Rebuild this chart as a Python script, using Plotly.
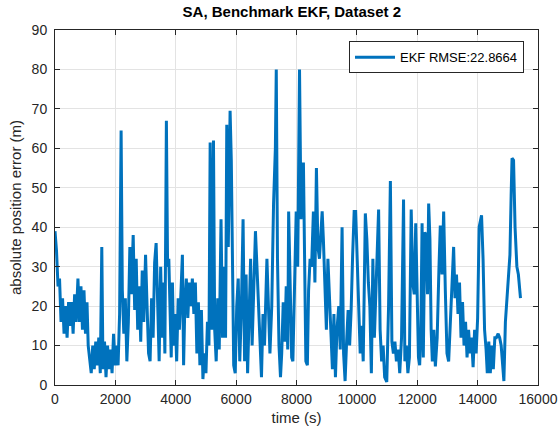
import plotly.graph_objects as go

# absolute position error of the benchmark EKF
time_s = [
    0, 50, 100, 150, 200, 250, 300, 350, 400, 450, 500, 550, 600, 650, 700, 760, 810, 860, 910, 960,
    1010, 1060, 1100, 1150, 1200, 1250, 1300, 1350, 1400, 1450, 1500, 1550, 1590, 1640, 1690, 1740,
    1790, 1840, 1890, 1940, 1990, 2040, 2090, 2140, 2190, 2230, 2280, 2330, 2380, 2430, 2480, 2530,
    2590, 2640, 2690, 2740, 2790, 2840, 2890, 2940, 3000, 3050, 3100, 3150, 3200, 3250, 3300, 3350,
    3400, 3450, 3500, 3550, 3600, 3640, 3690, 3730, 3770, 3810, 3850, 3890, 3930, 3980, 4030, 4080,
    4120, 4180, 4220, 4260, 4300, 4350, 4400, 4450, 4500, 4550, 4600, 4650, 4700, 4750, 4800, 4850,
    4900, 4950, 5000, 5050, 5100, 5140, 5190, 5250, 5290, 5340, 5390, 5440, 5500, 5550, 5600, 5650,
    5690, 5740, 5800, 5840, 5880, 5920, 5970, 6020, 6070, 6120, 6170, 6230, 6280, 6330, 6380, 6430,
    6480, 6530, 6580, 6640, 6690, 6740, 6790, 6840, 6890, 6940, 7020, 7070, 7120, 7180, 7240, 7300,
    7330, 7370, 7420, 7470, 7510, 7560, 7610, 7660, 7710, 7740, 7790, 7840, 7880, 7930, 7990, 8040,
    8100, 8150, 8180, 8230, 8270, 8310, 8360, 8400, 8450, 8500, 8560, 8610, 8660, 8710, 8760, 8800,
    8850, 8890, 8940, 8990, 9040, 9090, 9140, 9190, 9240, 9290, 9340, 9400, 9450, 9510, 9560, 9610,
    9660, 9710, 9760, 9810, 9860, 9910, 9960, 10010, 10060, 10110, 10160, 10210, 10280, 10330, 10380,
    10430, 10480, 10530, 10580, 10630, 10720, 10770, 10820, 10870, 10920, 10990, 11050, 11110, 11160,
    11210, 11260, 11310, 11370, 11420, 11480, 11546, 11590, 11640, 11690, 11740, 11800, 11850, 11900,
    11950, 12000, 12040, 12080, 12120, 12160, 12200, 12250, 12300, 12340, 12378, 12420, 12460, 12500,
    12550, 12600, 12660, 12720, 12764, 12820, 12875, 12930, 12985, 13040, 13100, 13150, 13205, 13250,
    13300, 13350, 13400, 13450, 13500, 13550, 13600, 13650, 13700, 13750, 13800, 13850, 13900, 13950,
    14000, 14050, 14130, 14180, 14230, 14280, 14320, 14370, 14420, 14470, 14520, 14570, 14620, 14680,
    14730, 14780, 14870, 14920, 14970, 15020, 15070, 15110, 15140, 15190, 15240, 15300, 15350, 15420,
]
ekf_error = [
    39, 34, 25, 27, 16, 22, 13, 20, 12, 21, 15, 21, 13, 23, 16, 27, 16, 25, 14, 24,
    13, 21, 10, 6, 3, 10, 4, 11, 5, 12, 3, 35, 4, 11, 2, 10,
    4, 9, 3, 13, 5, 10, 5, 18, 64.5, 24, 13, 22, 6, 16, 35, 23,
    38, 19, 32, 14, 25, 11, 29, 16, 33, 20, 8, 6, 22, 12, 31, 36,
    20, 6, 30, 12, 26, 8, 67, 30, 32, 15, 7, 26, 10, 18, 6, 22,
    14, 25, 33, 5, 20, 27, 17, 26, 20, 27, 18, 26, 8, 21, 5, 19,
    1.5, 8, 3, 16, 10, 61.5, 14, 62, 14, 6, 22, 9, 42, 12, 30, 12,
    66, 35, 69.5, 57, 20, 5, 3, 20, 27, 6, 18, 42, 6, 28, 3, 20,
    32, 10, 24, 39, 30, 20, 12, 2, 18, 10, 32, 18, 8, 20, 46, 60,
    80, 32, 10, 2, 8, 21, 11, 25, 9, 44, 20, 7, 6, 21, 44, 30,
    80, 42, 56, 56, 25, 6, 5, 24, 32, 30, 44, 26, 55, 35, 32, 38,
    44, 37, 27, 14, 32, 21, 15, 4, 18, 2, 14, 20, 9, 40, 8, 1,
    11, 19, 10, 19, 33, 44, 44, 33, 20, 8, 15, 6, 43.5, 37, 26,
    20, 3, 32, 12, 25, 44.5, 14, 6, 10, 2, 0.8, 20, 51.7, 11,
    8, 11, 6, 9, 3, 12, 47, 6, 10, 3, 7, 44.5, 26, 23,
    41, 23, 7, 5, 14, 41, 7, 38.7, 38, 23, 46, 37, 14, 6,
    14, 4.7, 12, 30, 40.4, 28, 44, 24, 8, 6, 16, 24, 35, 22,
    28, 18, 26, 12, 21, 10, 16, 7, 14, 8, 12, 4.5, 14, 8,
    17, 40, 43, 32, 14, 9, 3, 11, 3, 10, 4, 12, 12, 13,
    12, 10, 1, 16, 22, 28, 33, 48, 57.5, 57, 40, 30, 28, 22,
]
x_ticks = [0, 2000, 4000, 6000, 8000, 10000, 12000, 14000, 16000]
y_ticks = [0, 10, 20, 30, 40, 50, 60, 70, 80, 90]
rmse = 22.8664

FONT = "Liberation Sans, Arial, sans-serif"
AXIS_COLOR = "#262626"
GRID_COLOR = "#e3e3e3"

fig = go.Figure()
fig.add_trace(go.Scatter(
    x=time_s, y=ekf_error, mode="lines",
    name="EKF RMSE:" + str(rmse),
    line=dict(color="#0072BD", width=3),
))

fig.update_layout(
    width=559, height=431,
    margin=dict(l=55, r=21, t=30, b=46),
    plot_bgcolor="white", paper_bgcolor="white",
    font=dict(family=FONT, size=14, color=AXIS_COLOR),
    title=dict(text="<b>SA, Benchmark EKF, Dataset 2</b>", x=0.522, xanchor="center",
               y=1 - 12 / 431, yref="container", yanchor="middle",
               font=dict(size=15, color="black")),
    showlegend=True,
    legend=dict(x=0.971, y=0.968, xanchor="right", yanchor="top",
                bgcolor="white", bordercolor=AXIS_COLOR, borderwidth=1,
                font=dict(size=13, color="black"), itemwidth=40),
)
fig.update_xaxes(
    range=[0, 16000], tickvals=x_ticks, ticktext=[str(v) for v in x_ticks],
    ticks="inside", ticklen=5, tickcolor=AXIS_COLOR, automargin=False,
    showline=True, linecolor=AXIS_COLOR, linewidth=1, mirror="ticks",
    showgrid=True, gridcolor=GRID_COLOR, zeroline=False, ticklabelstandoff=1,
    title=dict(text="time (s)", standoff=6, font=dict(size=15)),
)
fig.update_yaxes(
    range=[0, 90], tickvals=y_ticks, ticktext=[str(v) for v in y_ticks],
    ticks="inside", ticklen=5, tickcolor=AXIS_COLOR, automargin=False,
    showline=True, linecolor=AXIS_COLOR, linewidth=1, mirror="ticks",
    showgrid=True, gridcolor=GRID_COLOR, zeroline=False, ticklabelstandoff=4,
    title=dict(text="absolute position error (m)", standoff=6, font=dict(size=15)),
)

# the page's default 8px body margin would shift the whole figure
fig.write_html("out.html", config={"displayModeBar": False},
               post_script="document.body.style.margin = '0px';")
